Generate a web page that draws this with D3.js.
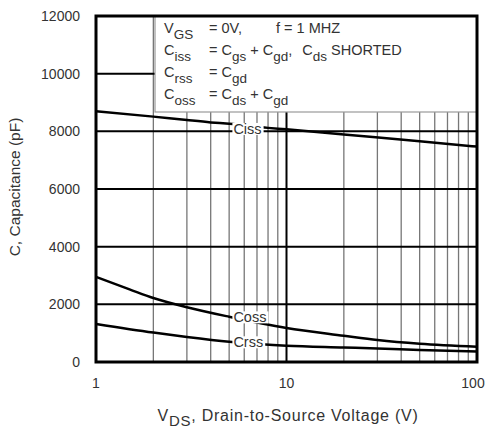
<!DOCTYPE html>
<html><head><meta charset="utf-8">
<script src="https://cdn.jsdelivr.net/npm/d3@7"></script>
<style>
html,body{margin:0;padding:0;background:#fff;}
svg{display:block;font-family:"Liberation Sans",Arial,Helvetica,sans-serif;}
</style></head>
<body><svg id="c" width="491" height="429"></svg>
<script>
// ---- data ----
const cissV = [1, 2, 3, 4, 5, 8, 10, 20, 50, 100];
const cissC = [8700, 8510, 8390, 8310, 8260, 8120, 8070, 7890, 7660, 7470];
const cossV = [1, 1.5, 2, 3, 5, 10, 20, 30, 50, 100];
const cossC = [2950, 2520, 2220, 1900, 1570, 1180, 910, 760, 630, 530];
const crssV = [1, 2, 3, 5, 8.5, 10, 20, 30, 50, 100];
const crssC = [1320, 1020, 870, 705, 590, 565, 505, 470, 415, 360];
const yTicks = [0, 2000, 4000, 6000, 8000, 10000, 12000];
const xTicks = [1, 10, 100];
const xMinor = [2, 3, 4, 5, 6, 7, 8, 9, 20, 30, 40, 50, 60, 70, 80, 90];
const curveLabels = ["Ciss", "Coss", "Crss"];
const labelV = [5.2, 5.2, 5.2];
const labelC = [8100, 1565, 700];

// ---- layout ----
const svg = d3.select("#c");
const L = 96, R = 477, T = 16, B = 362;
const x = d3.scaleLog().domain([1, 100]).range([L, R]);
const y = d3.scaleLinear().domain([0, 12000]).range([B, T]);
const ink = "#000", txt = "#333";

// minor vertical grid
svg.append("g").selectAll("line").data(xMinor).join("line")
  .attr("x1", d => x(d)).attr("x2", d => x(d)).attr("y1", T).attr("y2", B)
  .attr("stroke", "#777").attr("stroke-width", 1.3);
// decade line at 10
svg.append("line").attr("x1", x(10)).attr("x2", x(10)).attr("y1", T).attr("y2", B)
  .attr("stroke", ink).attr("stroke-width", 2);
// horizontal grid
svg.append("g").selectAll("line").data(yTicks.slice(1, -1)).join("line")
  .attr("x1", L).attr("x2", R).attr("y1", d => y(d)).attr("y2", d => y(d))
  .attr("stroke", ink).attr("stroke-width", 2);

// legend box
const boxL = 155, boxB = 112;
svg.append("rect").attr("x", boxL).attr("y", T).attr("width", R - boxL).attr("height", boxB - T)
  .attr("fill", "#fff").attr("stroke", "#999").attr("stroke-width", 1.2);

// curves
const line = d3.line().x(d => x(d[0])).y(d => y(d[1])).curve(d3.curveMonotoneX);
const series = [d3.zip(cissV, cissC), d3.zip(cossV, cossC), d3.zip(crssV, crssC)];
svg.append("g").selectAll("path").data(series).join("path")
  .attr("d", line).attr("fill", "none").attr("stroke", ink).attr("stroke-width", 2.5);

// curve labels
const lg = svg.append("g");
curveLabels.forEach((lab, i) => {
  const cx = x(labelV[i]);
  const cy = y(labelC[i]);
  const t = lg.append("text").attr("x", cx + 1).attr("y", cy + 5.5)
    .attr("font-size", 14.5).attr("fill", txt).text(lab);
  const bb = t.node().getBBox();
  lg.insert("rect", "text").attr("x", bb.x - 1).attr("y", bb.y + 2)
    .attr("width", bb.width + 3).attr("height", bb.height - 4).attr("fill", "#fff");
});

// frame
svg.append("rect").attr("x", L).attr("y", T).attr("width", R - L).attr("height", B - T)
  .attr("fill", "none").attr("stroke", ink).attr("stroke-width", 3);

// y tick labels
svg.append("g").selectAll("text").data(yTicks).join("text")
  .attr("x", 80).attr("y", d => y(d) + 5).attr("text-anchor", "end")
  .attr("font-size", 14).attr("fill", txt).text(d => d);
// x tick labels
svg.append("g").selectAll("text").data(xTicks).join("text")
  .attr("x", d => x(d) - (d === 100 ? 4 : 0)).attr("y", 388).attr("text-anchor", "middle")
  .attr("font-size", 14).attr("fill", txt).text(d => d);

// axis titles
const xt = svg.append("text").attr("x", 288).attr("y", 421).attr("text-anchor", "middle")
  .attr("font-size", 16).attr("letter-spacing", 0.75).attr("fill", txt);
xt.append("tspan").text("V");
xt.append("tspan").attr("dy", 5).attr("font-size", 15).text("DS");
xt.append("tspan").attr("dy", -5).text(", Drain-to-Source Voltage (V)");

svg.append("text").attr("transform", "translate(20,187) rotate(-90)")
  .attr("text-anchor", "middle").attr("font-size", 15.5).attr("fill", txt)
  .text("C, Capacitance (pF)");

// legend text
const legendRows = [
  [["V", 0, 0], ["GS", 1, 0]],
  [["C", 0, 0], ["iss", 1, 0]],
  [["C", 0, 0], ["rss", 1, 0]],
  [["C", 0, 0], ["oss", 1, 0]]
];
const rhs = [
  [["= 0V,", 0, 0]],
  [["= C", 0, 0], ["gs", 1, 0], [" + C", 0, 0], ["gd", 1, 0], [",", 0, 0], ["C", 0, 10], ["ds", 1, 0], [" SHORTED", 0, 0]],
  [["= C", 0, 0], ["gd", 1, 0]],
  [["= C", 0, 0], ["ds", 1, 0], [" + C", 0, 0], ["gd", 1, 0]]
];
const rowY = [33, 55, 77, 99];
function writeRow(xp, yp, parts) {
  const t = svg.append("text").attr("x", xp).attr("y", yp).attr("font-size", 14.5).attr("fill", txt);
  let sub = 0;
  parts.forEach(([s, isSub, dx]) => {
    const dy = (isSub ? 6 : 0) - sub;
    sub = isSub ? 6 : 0;
    t.append("tspan").attr("dy", dy).attr("dx", dx).attr("font-size", isSub ? 13.5 : 14.5).text(s);
  });
}
legendRows.forEach((r, i) => writeRow(164, rowY[i], r));
rhs.forEach((r, i) => writeRow(209, rowY[i], r));
writeRow(276, rowY[0], [["f = 1 MHZ", 0, 0]]);
</script></body></html>
